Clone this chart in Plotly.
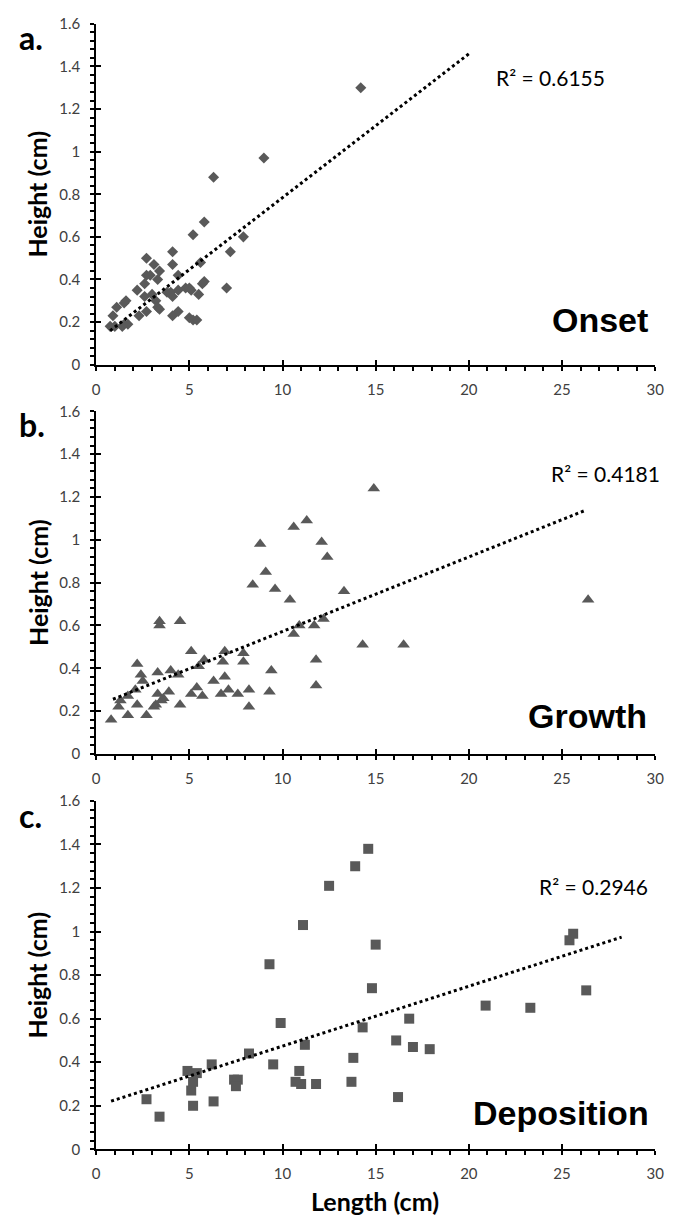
import numpy as np
import plotly.graph_objects as go

# ---------------- data ----------------
onset_x = [14.2, 9.0, 6.3, 5.8, 5.2, 7.9, 7.2, 4.1, 2.7, 3.1, 4.1, 5.6, 3.4, 2.7, 2.9,
           3.3, 4.4, 2.6, 2.2, 5.8, 5.7, 7.0, 4.4, 4.8, 5.0, 3.8, 4.0, 5.1, 2.6, 3.0,
           3.2, 4.1, 5.5, 1.6, 1.5, 1.1, 0.9, 2.3, 2.7, 3.3, 3.4, 4.1, 4.4, 5.0, 5.2,
           5.4, 0.75, 1.0, 1.4, 1.7, 1.5]
onset_y = [1.30, 0.97, 0.88, 0.67, 0.61, 0.60, 0.53, 0.53, 0.50, 0.47, 0.47, 0.48, 0.44, 0.42, 0.42,
           0.40, 0.42, 0.38, 0.35, 0.39, 0.38, 0.36, 0.35, 0.36, 0.36, 0.34, 0.34, 0.35, 0.32, 0.33,
           0.30, 0.32, 0.33, 0.30, 0.29, 0.27, 0.23, 0.23, 0.25, 0.27, 0.26, 0.23, 0.25, 0.22, 0.21,
           0.21, 0.18, 0.18, 0.18, 0.19, 0.19]

growth_x = [14.9, 11.3, 10.6, 8.8, 12.1, 12.4, 9.1, 8.4, 9.6, 13.3, 10.4, 3.4, 3.4, 4.5, 10.9,
            11.7, 12.2, 10.6, 14.3, 16.5, 26.4, 5.1, 6.9, 7.9, 7.9, 6.8, 5.8, 5.5, 11.8, 2.2,
            2.4, 2.5, 3.3, 4.0, 4.4, 9.4, 6.9, 6.3, 2.1, 5.4, 7.1, 3.3, 3.9, 5.1, 5.7,
            6.7, 7.6, 8.2, 9.3, 11.8, 3.6, 3.5, 1.7, 1.3, 1.2, 2.2, 3.2, 3.1, 4.5, 8.2,
            1.7, 2.7, 0.8]
growth_y = [1.24, 1.09, 1.06, 0.98, 0.99, 0.92, 0.85, 0.79, 0.77, 0.76, 0.72, 0.62, 0.60, 0.62, 0.60,
            0.60, 0.63, 0.56, 0.51, 0.51, 0.72, 0.48, 0.48, 0.47, 0.43, 0.43, 0.44, 0.41, 0.44, 0.42,
            0.37, 0.34, 0.38, 0.39, 0.37, 0.39, 0.36, 0.34, 0.30, 0.31, 0.30, 0.28, 0.29, 0.28, 0.27,
            0.28, 0.28, 0.30, 0.29, 0.32, 0.26, 0.25, 0.27, 0.25, 0.22, 0.23, 0.23, 0.22, 0.23, 0.22,
            0.18, 0.18, 0.16]

deposition_x = [14.6, 13.9, 12.5, 11.1, 15.0, 9.3, 14.8, 9.9, 14.3, 11.2, 8.2, 13.8, 6.2, 9.5,
                4.9, 5.4, 10.9, 25.4, 25.6, 26.3, 20.9, 23.3, 16.8, 16.1, 17.0, 17.9, 2.7, 3.4,
                5.1, 5.2, 5.2, 6.3, 7.4, 7.6, 7.5, 10.7, 11.0, 11.8, 13.7, 16.2]
deposition_y = [1.38, 1.30, 1.21, 1.03, 0.94, 0.85, 0.74, 0.58, 0.56, 0.48, 0.44, 0.42, 0.39, 0.39,
                0.36, 0.35, 0.36, 0.96, 0.99, 0.73, 0.66, 0.65, 0.60, 0.50, 0.47, 0.46, 0.23, 0.15,
                0.27, 0.31, 0.20, 0.22, 0.32, 0.32, 0.29, 0.31, 0.30, 0.30, 0.31, 0.24]

# linear trendlines as drawn in the reference
trend_slope = [0.0675, 0.0348, 0.0275]
trend_intercept = [0.109, 0.224, 0.199]
trend_x_start = [0.75, 0.9, 0.8]
trend_x_end = [20.0, 26.2, 28.2]

r2_labels = ["R\u00b2 = 0.6155", "R\u00b2 = 0.4181", "R\u00b2 = 0.2946"]
stage_names = ["Onset", "Growth", "Deposition"]
panel_letters = ["a.", "b.", "c."]
x_ticks = [0, 5, 10, 15, 20, 25, 30]
y_ticks = [0, 0.2, 0.4, 0.6, 0.8, 1, 1.2, 1.4, 1.6]
y_tick_text = ["0", "0.2", "0.4", "0.6", "0.8", "1", "1.2", "1.4", "1.6"]
x_title = "Length (cm)"
y_title = "Height (cm)"

# ---------------- layout geometry ----------------
W, H = 673, 1226
plot_left, plot_right = 94, 664
panel_top = [14, 407.3, 802.7]
panel_bottom = [360, 755, 1156.3]

MARKER_COLOR = "#595959"
TICK_FONT = dict(family="Lato", size=15, color="#404040")
symbols = ["diamond", "triangle-up", "square"]
sizes = [8.5, 11, 10]
xs = [onset_x, growth_x, deposition_x]
ys = [onset_y, growth_y, deposition_y]


def px_x(p):
    return p / W


def px_y(p):
    return 1 - p / H


fig = go.Figure()
layout = dict(
    width=W, height=H, margin=dict(l=0, r=0, t=0, b=0),
    paper_bgcolor="white", plot_bgcolor="white", showlegend=False,
    font=dict(family="Lato", color="#262626"),
)
annotations = []

for i in range(3):
    n = "" if i == 0 else str(i + 1)
    xo = str(i + 4)
    xa, ya = "x" + n, "y" + n
    dom_x = [px_x(plot_left), px_x(plot_right)]
    dom_y = [px_y(panel_bottom[i]), px_y(panel_top[i])]

    layout["xaxis" + n] = dict(
        domain=dom_x, range=[0, 30], anchor=ya, tickvals=x_ticks,
        ticks="outside", ticklen=4, tickwidth=1.5, tickcolor="black",
        showline=True, linecolor="black", linewidth=2, showgrid=False, zeroline=False,
        tickfont=TICK_FONT, ticklabelstandoff=6, ticklabeloverflow="allow",
        minor=dict(dtick=1, ticks="outside", ticklen=4, tickwidth=1.5,
                   tickcolor="black", showgrid=False),
    )
    layout["yaxis" + n] = dict(
        domain=dom_y, range=[0, 1.6], anchor=xa, tickvals=y_ticks, ticktext=y_tick_text,
        ticks="outside", ticklen=4, tickwidth=1.5, tickcolor="black",
        showline=True, linecolor="black", linewidth=2, showgrid=False, zeroline=False,
        tickfont=TICK_FONT, ticklabelstandoff=7, ticklabeloverflow="allow",
        minor=dict(dtick=0.04, ticks="outside", ticklen=4, tickwidth=1.5,
                   tickcolor="black", showgrid=False),
    )
    # overlay axes that draw the inner half of the crossing major ticks
    layout["xaxis" + xo] = dict(
        overlaying=xa, range=[0, 30], anchor=ya, side="bottom", tickvals=x_ticks,
        ticks="inside", ticklen=5, tickwidth=1.5, tickcolor="black",
        showticklabels=False, showline=False, showgrid=False, zeroline=False,
    )
    layout["yaxis" + xo] = dict(
        overlaying=ya, range=[0, 1.6], anchor=xa, side="left", tickvals=y_ticks,
        ticks="inside", ticklen=5, tickwidth=1.5, tickcolor="black",
        showticklabels=False, showline=False, showgrid=False, zeroline=False,
    )
    fig.add_trace(go.Scatter(x=[None], y=[None], xaxis="x" + xo, yaxis=ya,
                             hoverinfo="skip", showlegend=False))
    fig.add_trace(go.Scatter(x=[None], y=[None], xaxis=xa, yaxis="y" + xo,
                             hoverinfo="skip", showlegend=False))

    # data points
    fig.add_trace(go.Scatter(
        x=xs[i], y=ys[i], mode="markers", xaxis=xa, yaxis=ya,
        marker=dict(symbol=symbols[i], size=sizes[i], color=MARKER_COLOR,
                    line=dict(width=0)),
        cliponaxis=False,
    ))
    # trendline
    tx = np.array([trend_x_start[i], trend_x_end[i]])
    ty = trend_intercept[i] + trend_slope[i] * tx
    fig.add_trace(go.Scatter(
        x=tx, y=ty, mode="lines", xaxis=xa, yaxis=ya,
        line=dict(color="black", width=3, dash="dot"),
    ))

    # y-axis title
    annotations.append(dict(
        text="<b>" + y_title + "</b>", xref="paper", yref="paper",
        x=px_x(34), y=px_y((panel_top[i] + panel_bottom[i]) / 2),
        textangle=-90, showarrow=False, xanchor="center", yanchor="middle",
        font=dict(family="Lato", size=25, color="#000000"),
    ))

# R² labels
r2_pos = [(557, 69), (613, 470), (601, 890)]
for i in range(3):
    annotations.append(dict(
        text=r2_labels[i], xref="paper", yref="paper",
        x=px_x(r2_pos[i][0]), y=px_y(r2_pos[i][1]), showarrow=False,
        xanchor="center", yanchor="middle",
        font=dict(family="Lato", size=21, color="#000000"),
    ))

# stage names
stage_pos = [(659, 315), (658, 717), (660, 1119)]
for i in range(3):
    annotations.append(dict(
        text="<b>" + stage_names[i] + "</b>", xref="paper", yref="paper",
        x=px_x(stage_pos[i][0]), y=px_y(stage_pos[i][1]), showarrow=False,
        xanchor="right", yanchor="middle",
        font=dict(family="Liberation Sans", size=34, color="#000000"),
    ))

# panel letters
letter_pos = [(13, 28), (13, 421), (13, 817)]
for i in range(3):
    annotations.append(dict(
        text="<b>" + panel_letters[i] + "</b>", xref="paper", yref="paper",
        x=px_x(letter_pos[i][0]), y=px_y(letter_pos[i][1]), showarrow=False,
        xanchor="left", yanchor="middle",
        font=dict(family="Lato", size=32, color="#000000"),
    ))

# x-axis title
annotations.append(dict(
    text="<b>" + x_title + "</b>", xref="paper", yref="paper",
    x=px_x(378), y=px_y(1209), showarrow=False, xanchor="center", yanchor="middle",
    font=dict(family="Lato", size=25, color="#000000"),
))

layout["annotations"] = annotations
fig.update_layout(**layout)
fig.write_html("out.html")
